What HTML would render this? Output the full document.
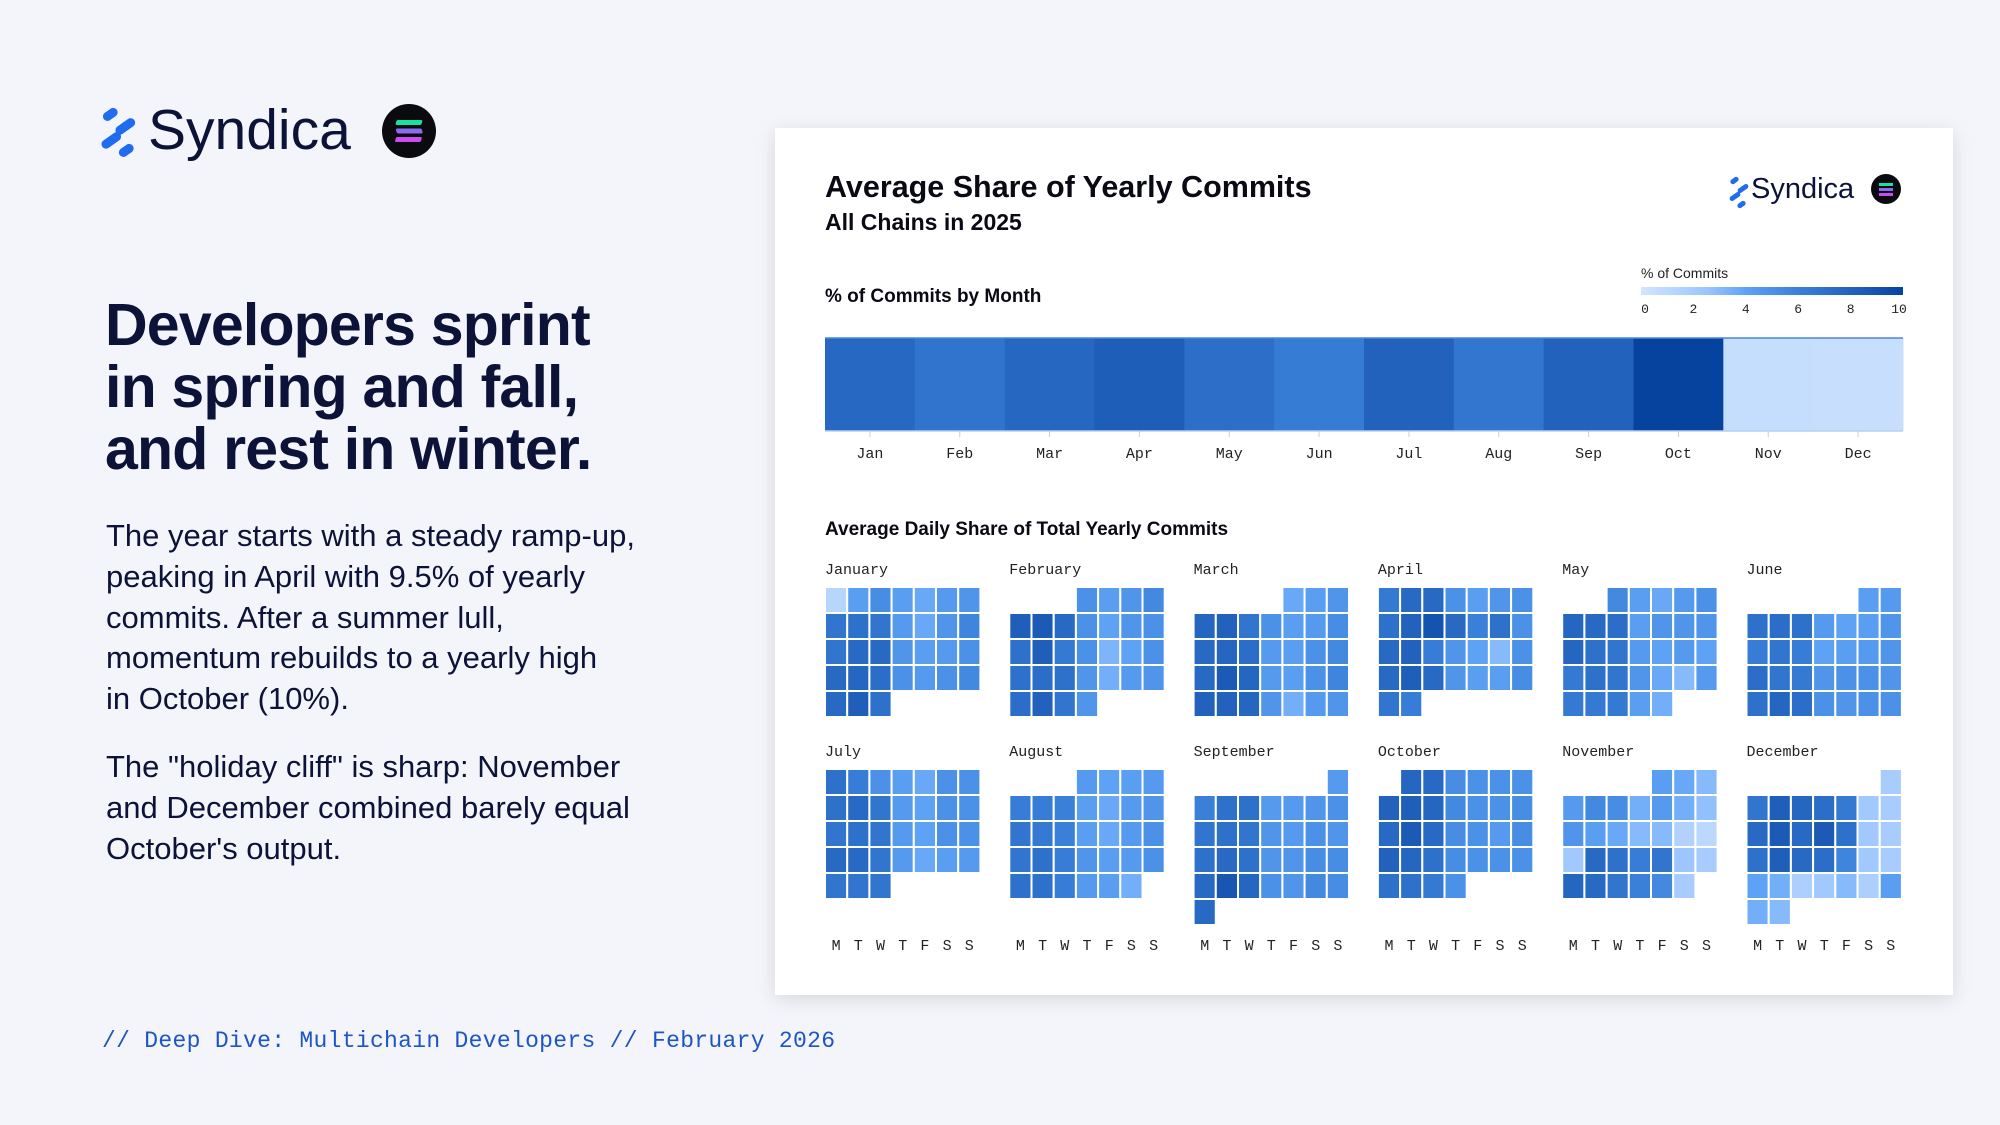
<!DOCTYPE html>
<html><head><meta charset="utf-8">
<style>
body{margin:0;width:2000px;height:1125px;background:#f3f5fa;position:relative;overflow:hidden;font-family:"Liberation Sans",sans-serif;color:#0d1030}
.abs{position:absolute}
h1{position:absolute;left:105px;top:294px;margin:0;font-size:59px;line-height:62px;font-weight:bold;color:#0d1238;letter-spacing:-0.8px}
p.body{position:absolute;left:106px;margin:0;font-size:31px;line-height:40.8px;color:#0d1238;white-space:nowrap}
#card{position:absolute;left:775px;top:128px;width:1178px;height:867px;background:#fff;box-shadow:0 4px 18px rgba(0,0,0,0.12)}
#footer{position:absolute;left:102px;top:1028px;font-family:"Liberation Mono",monospace;font-size:23px;letter-spacing:0.3px;color:#1d55c4}
</style></head><body>
<div class="abs" style="left:98px;top:100px;width:360px;height:66px">
<svg width="360" height="66">
<g fill="#1f6cf0">
<rect x="4" y="10" width="16" height="9" rx="4.5" transform="rotate(-35 12 14)"/>
<rect x="16" y="22" width="22" height="9" rx="4.5" transform="rotate(-35 27 26)"/>
<rect x="2" y="36" width="22" height="9" rx="4.5" transform="rotate(-35 13 40)"/>
<rect x="20" y="46" width="16" height="9" rx="4.5" transform="rotate(-35 28 50)"/>
</g>
<text x="50" y="49" font-size="57" fill="#0d1238" font-family="Liberation Sans, sans-serif">Syndica</text>
<circle cx="311" cy="31" r="27" fill="#0b0b0f"/>
<rect x="298" y="20" width="26" height="5" rx="1.5" fill="#19e0a0" transform="skewX(-15) translate(6 0)"/>
<rect x="298" y="28.5" width="26" height="5" rx="1.5" fill="#8a6cf0" transform="skewX(15) translate(-8 0)"/>
<rect x="298" y="37" width="26" height="5" rx="1.5" fill="#c84cf0" transform="skewX(-15) translate(10 0)"/>
</svg></div>

<h1>Developers sprint<br>in spring and fall,<br>and rest in winter.</h1>
<p class="body" style="top:516px">The year starts with a steady ramp-up,<br>peaking in April with 9.5% of yearly<br>commits. After a summer lull,<br>momentum rebuilds to a yearly high<br>in October (10%).</p>
<p class="body" style="top:747px">The "holiday cliff" is sharp: November<br>and December combined barely equal<br>October's output.</p>
<div id="footer">// Deep Dive: Multichain Developers // February 2026</div>

<div id="card"></div>
<svg id="chart" class="abs" style="left:0;top:0" width="2000" height="1125"></svg>

<script>
const monthNames=["Jan","Feb","Mar","Apr","May","Jun","Jul","Aug","Sep","Oct","Nov","Dec"];
const monthFull=["January","February","March","April","May","June","July","August","September","October","November","December"];
const monthlyShare=[7.6,6.8,7.7,8.3,7.2,6.3,8.0,6.7,8.0,10.0,0.6,0.5];
const legendTicks=[0,2,4,6,8,10];
const dayLabels=["M","T","W","T","F","S","S"];
const dailyJan=[15,27,31,27,25,28,29, 37,38,37,28,25,29,33, 37,40,40,29,27,28,30, 40,41,39,30,28,30,32, 40,43,38];
const dailyFeb=[30,27,29,32, 43,44,40,30,26,29,30, 38,43,36,30,23,26,30, 38,39,38,29,24,28,29, 39,42,37,29];
const dailyMar=[25,27,29, 41,42,37,30,27,28,31, 40,41,39,28,27,30,32, 40,44,41,28,27,30,33, 42,42,41,29,24,28,29];
const dailyApr=[36,40,40,30,27,29,30, 38,42,46,40,34,38,30, 40,42,35,29,26,22,30, 40,43,40,29,27,27,31, 37,35];
const dailyMay=[32,27,25,28,30, 41,40,39,27,29,29,29, 41,38,37,28,26,28,26, 36,38,37,29,25,22,28, 36,36,36,27,24];
const dailyJun=[27,28, 38,39,38,28,26,27,29, 35,37,35,26,27,28,29, 39,37,36,29,30,30,29, 38,41,39,30,29,30,30];
const dailyJul=[38,35,30,27,25,30,30, 38,40,37,28,26,30,30, 37,38,37,28,26,30,30, 40,40,37,28,25,27,28, 37,37,37];
const dailyAug=[28,26,27,28, 35,35,34,27,25,28,29, 37,36,34,27,25,28,30, 37,38,35,29,27,28,30, 38,38,35,28,27,24];
const dailySep=[28, 34,38,38,28,28,29,30, 37,38,37,29,28,30,29, 38,40,38,29,29,31,31, 40,45,41,30,29,32,31, 40];
const dailyOct=[41,40,31,30,30,30, 42,43,41,32,30,30,31, 40,44,40,31,30,28,31, 42,41,38,31,30,30,30, 38,38,36,30];
const dailyNov=[27,25,22, 28,32,31,24,28,24,21, 29,27,25,22,22,16,14, 19,40,38,35,37,20,18, 41,40,37,34,32,18];
const dailyDec=[18, 37,43,41,39,36,19,18, 40,44,40,44,38,19,18, 38,43,40,39,33,19,18, 26,24,17,19,22,17,27, 24,22];
const dailyAll=[dailyJan,dailyFeb,dailyMar,dailyApr,dailyMay,dailyJun,dailyJul,dailyAug,dailySep,dailyOct,dailyNov,dailyDec];

const NS="http://www.w3.org/2000/svg";
const svg=document.getElementById('chart');
function el(tag,attrs,parent){const e=document.createElementNS(NS,tag);for(const k in attrs)e.setAttribute(k,attrs[k]);(parent||svg).appendChild(e);return e;}
function txt(x,y,s,attrs){const t=el('text',Object.assign({x:x,y:y},attrs));t.textContent=s;return t;}

const stops=[[0,[210,229,253]],[2.5,[156,198,253]],[4,[94,162,246]],[6,[58,128,217]],[8,[34,98,189]],[10,[6,67,158]]];
function color(v){v=Math.max(0,Math.min(10,v));for(let i=1;i<stops.length;i++){if(v<=stops[i][0]){const a=stops[i-1],b=stops[i];const t=(v-a[0])/(b[0]-a[0]);const c=a[1].map((x,j)=>Math.round(x+(b[1][j]-x)*t));return `rgb(${c[0]},${c[1]},${c[2]})`;}}return 'rgb(6,67,158)';}
function dailyColor(v){return color((v/100-0.10)/0.40*10);}

const tf={"font-family":"Liberation Sans, sans-serif","font-weight":"bold",fill:"#0a0a14"};
let t;
t=txt(825,197,"Average Share of Yearly Commits",Object.assign({"font-size":30.5},tf));

t=txt(825,230,"All Chains in 2025",Object.assign({"font-size":23},tf));

t=txt(825,302,"% of Commits by Month",Object.assign({"font-size":19},tf));

t=txt(825,535,"Average Daily Share of Total Yearly Commits",Object.assign({"font-size":19},tf));


const lg=el('g',{});


[[1730,178,9],[1737,186,12],[1729,194,12],[1737,202,9]].forEach(d=>el('rect',{x:d[0],y:d[1],width:d[2],height:5,rx:2.5,fill:"#1f6cf0",transform:`rotate(-35 ${d[0]+d[2]/2} ${d[1]+2.5})`},lg));
txt(1751,198,"Syndica",{"font-size":29,fill:"#0d1238","font-family":"Liberation Sans, sans-serif"});
el('circle',{cx:1886,cy:189,r:15,fill:"#0b0b0f"},lg);
el('rect',{x:1879,y:183,width:14,height:3,fill:"#19e0a0"},lg);
el('rect',{x:1879,y:188,width:14,height:3,fill:"#8a6cf0"},lg);
el('rect',{x:1879,y:193,width:14,height:3,fill:"#c84cf0"},lg);

const defs=el('defs',{});
const grad=el('linearGradient',{id:'lg',x1:0,x2:1,y1:0,y2:0},defs);
stops.forEach(s=>el('stop',{offset:s[0]/10,'stop-color':color(s[0])},grad));
const legX0=1641,legX1=1903;
function legX(v){return legX0+(legX1-legX0)*v/10;}
t=txt(1641,278,"% of Commits",{"font-size":14,fill:"#222","font-family":"Liberation Sans, sans-serif"});

const lb=el('rect',{x:legX0,y:287,width:legX1-legX0,height:8,fill:"url(#lg)"});

legendTicks.forEach(v=>{const tt=txt(legX(v)+(v==0?4:v==10?-4:0),313,String(v),{"font-size":13,fill:"#222","font-family":"Liberation Mono, monospace","text-anchor":"middle"});
});

const bx0=825,bx1=1903,by0=338,by1=431;
const bw=(bx1-bx0)/monthNames.length;
function bandX(i){return bx0+i*bw;}
monthlyShare.forEach((v,i)=>{
 const r=el('rect',{x:bandX(i),y:by0,width:bw+0.5,height:by1-by0,fill:color(v)});
 
 
 el('line',{x1:bandX(i)+bw/2,x2:bandX(i)+bw/2,y1:by1,y2:by1+6,stroke:"#ccc"});
 const l=txt(bandX(i)+bw/2,458,monthNames[i],{"font-size":15,fill:"#222","font-family":"Liberation Mono, monospace","text-anchor":"middle"});
 
});
el('line',{x1:bx0,x2:bx1,y1:by0,y2:by0,stroke:"#4a86d8","stroke-width":1.5});
el('line',{x1:bx0,x2:bx1,y1:by1,y2:by1,stroke:"#b8cff0","stroke-width":1.5});

const cw=22.2,ch=26,colStep=184.3;
function firstDow(m){const d=new Date(2024,m,1).getDay();return (d+6)%7;}
dailyAll.forEach((arr,m)=>{
 const gx=825+(m%6)*colStep, gy=(m<6)?587:769;
 const lab=txt(gx,gy-13,monthFull[m],{"font-size":15,fill:"#222","font-family":"Liberation Mono, monospace"});
 
 const off=firstDow(m);
 arr.forEach((v,d)=>{
  const p=off+d,col=p%7,row=Math.floor(p/7);
  const r=el('rect',{x:gx+col*cw,y:gy+row*ch,width:cw,height:ch,fill:dailyColor(v),stroke:"#fff","stroke-width":2});
  
  
 });
 if(m>=6){dayLabels.forEach((s,k)=>{const dl=txt(gx+k*cw+cw/2,950,s,{"font-size":15,fill:"#222","font-family":"Liberation Mono, monospace","text-anchor":"middle"});
  });}
});
</script>
</body></html>
